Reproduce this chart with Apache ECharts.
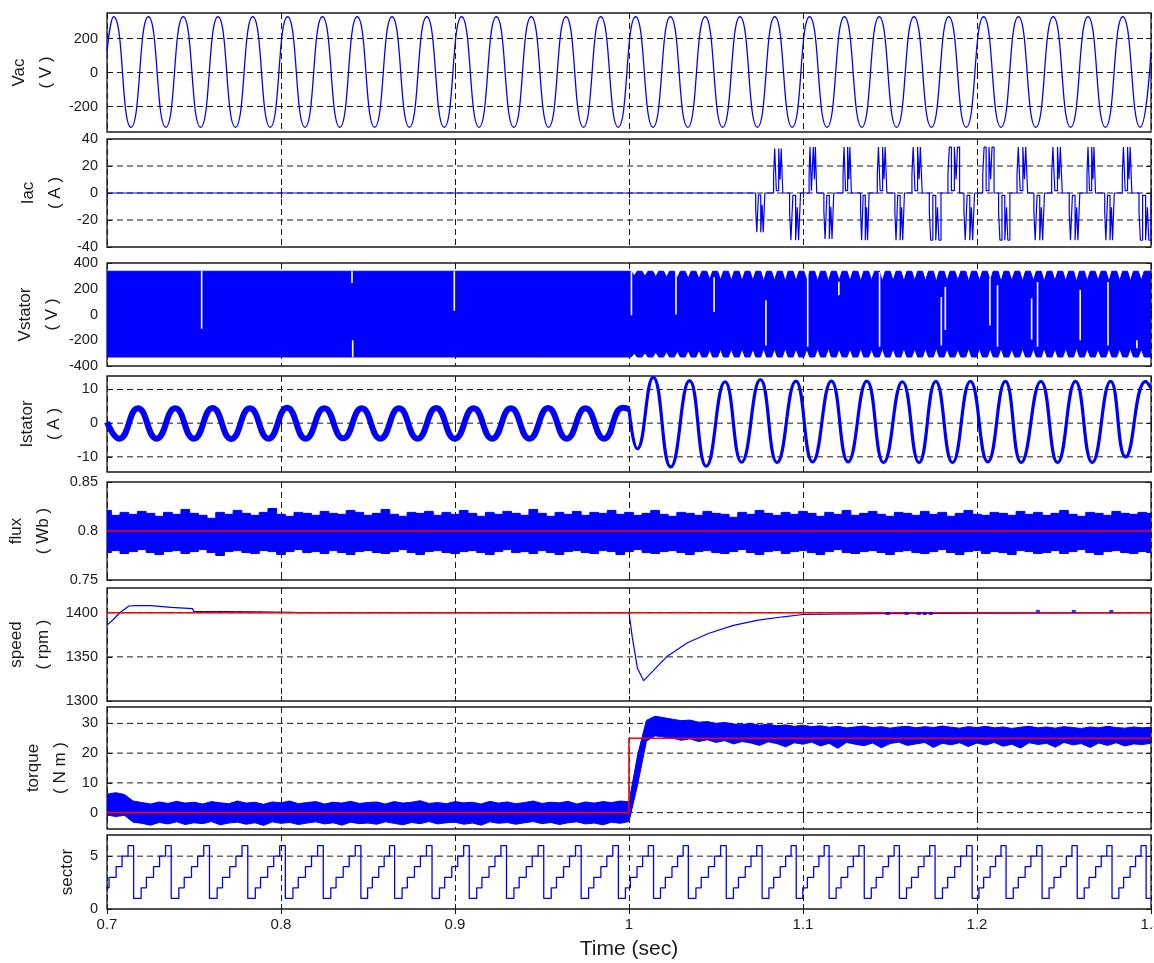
<!DOCTYPE html>
<html>
<head>
<meta charset="utf-8">
<title>Drive simulation traces</title>
<script src="https://cdn.jsdelivr.net/npm/echarts@6/dist/echarts.min.js"></script>
<style>
  html, body { margin: 0; padding: 0; background: #ffffff; }
  #chart { width: 1154px; height: 963px; }
</style>
</head>
<body>
<div id="chart"></div>
<script>
// ---------------- time axis ----------------
const T_MIN = 0.7, T_MAX = 1.3;

// ---------------- Vac : supply voltage (extrema of the 50 Hz wave) ----------------
const vacTime = [0.7, 0.7038, 0.7138, 0.7238, 0.7338, 0.7438, 0.7538, 0.7638, 0.7738, 0.7838, 0.7938,
  0.8038, 0.8138, 0.8238, 0.8338, 0.8438, 0.8538, 0.8638, 0.8738, 0.8838, 0.8938,
  0.9038, 0.9138, 0.9238, 0.9338, 0.9438, 0.9538, 0.9638, 0.9738, 0.9838, 0.9938,
  1.0038, 1.0138, 1.0238, 1.0338, 1.0438, 1.0538, 1.0638, 1.0738, 1.0838, 1.0938,
  1.1038, 1.1138, 1.1238, 1.1338, 1.1438, 1.1538, 1.1638, 1.1738, 1.1838, 1.1938,
  1.2038, 1.2138, 1.2238, 1.2338, 1.2438, 1.2538, 1.2638, 1.2738, 1.2838, 1.2938, 1.3];
const vacVolts = [120,
  328, -322, 328, -322, 328, -322, 328, -322, 328, -322,
  328, -322, 328, -322, 328, -322, 328, -322, 328, -322,
  328, -322, 328, -322, 328, -322, 328, -322, 328, -322,
  328, -322, 328, -322, 328, -322, 328, -322, 328, -322,
  328, -322, 328, -322, 328, -322, 328, -322, 328, -322,
  328, -322, 328, -322, 328, -322, 328, -322, 328, -322,
  120];
const vacTicks = [-200, 0, 200];

// ---------------- Iac : rectifier current pulses ----------------
const iacPulseStart = [1.0728, 1.0831, 1.0923, 1.1035, 1.1120, 1.1230, 1.1331, 1.1427, 1.1528, 1.1626, 1.1726, 1.1833,
  1.1925, 1.2033, 1.2124, 1.2230, 1.2327, 1.2429, 1.2530, 1.2632, 1.2734, 1.2835, 1.2931];
const iacPulseEnd = [1.0781, 1.0884, 1.0986, 1.1079, 1.1177, 1.1278, 1.1380, 1.1482, 1.1583, 1.1685, 1.1793, 1.1900,
  1.1986, 1.2098, 1.2189, 1.2291, 1.2388, 1.2490, 1.2591, 1.2681, 1.2789, 1.2890, 1.3000];
const iacPulsePeak = [-29, 33, -35, 34, -34, 34, -35, 34, -35, 34, -35, 34,
  -35, 34, -35, 34, -35, 34, -35, 34, -35, 34, -35];
const iacTicks = [-40, -20, 0, 20, 40];
const iacGrid = [-20, 0, 20];

// ---------------- Vstator : PWM phase voltage ----------------
const vstatorRail = [336, -330];
const vstatorDipTime = [1.0030, 1.0092, 1.0154, 1.0216, 1.0278, 1.0340, 1.0402, 1.0464,
  1.0526, 1.0588, 1.0650, 1.0712, 1.0774, 1.0836, 1.0898, 1.0960,
  1.1022, 1.1084, 1.1146, 1.1208, 1.1270, 1.1332, 1.1394, 1.1456,
  1.1518, 1.1580, 1.1642, 1.1704, 1.1766, 1.1828, 1.1890, 1.1952,
  1.2014, 1.2076, 1.2138, 1.2200, 1.2262, 1.2324, 1.2386, 1.2448,
  1.2510, 1.2572, 1.2634, 1.2696, 1.2758, 1.2820, 1.2882, 1.2944];
const vstatorDipTop = [300, 296, 292, 288, 284, 280, 276, 272,
  268, 265, 262, 266, 260, 264, 258, 262,
  266, 260, 258, 264, 262, 258, 266, 260,
  262, 258, 264, 260, 256, 262, 266, 258,
  262, 260, 256, 264, 260, 262, 258, 264,
  260, 256, 262, 266, 258, 262, 260, 264];
const vstatorDipBottom = [-300, -296, -292, -288, -284, -280, -276, -272,
  -270, -268, -266, -270, -264, -268, -262, -266,
  -270, -264, -262, -268, -266, -262, -270, -264,
  -266, -262, -268, -264, -260, -266, -270, -262,
  -266, -264, -260, -268, -264, -266, -262, -268,
  -264, -260, -266, -270, -262, -266, -264, -268];
const vstatorGapTime = [0.7544, 0.8408, 0.8412, 0.8996, 1.0014, 1.0270, 1.0489, 1.0787, 1.1027, 1.1206,
  1.1440, 1.1795, 1.1818, 1.2074, 1.2118, 1.2314, 1.2348, 1.2593, 1.2753, 1.2919];
const vstatorGapTop = [336, 336, -200, 336, 336, 336, 290, 110, 330, 255,
  330, 135, 215, 282, 228, 124, 253, 190, 253, -200];
const vstatorGapBottom = [-110, 245, -330, 30, -5, 0, 20, -240, -250, 150,
  -250, -240, -120, -85, -250, -195, -250, -200, -240, -262];
const vstatorTicks = [-400, -200, 0, 200, 400];
const vstatorGrid = [-200, 0, 200];

// ---------------- Istator : stator current (extrema) ----------------
const istatorTime = [0.7, 0.7071, 0.7178, 0.7285, 0.7392, 0.7499, 0.7607, 0.7714, 0.7821, 0.7928,
  0.8035, 0.8142, 0.8249, 0.8357, 0.8464, 0.8571, 0.8678, 0.8785, 0.8892, 0.8999,
  0.9107, 0.9214, 0.9321, 0.9428, 0.9535, 0.9642, 0.9750, 0.9857, 0.9964, 1.0,
  1.0048, 1.0139, 1.0240, 1.0348, 1.0444, 1.0552, 1.0647, 1.0755, 1.0851, 1.0959,
  1.1055, 1.1163, 1.1259, 1.1367, 1.1463, 1.1571, 1.1667, 1.1763, 1.1859, 1.1962,
  1.2062, 1.2163, 1.2254, 1.2367, 1.2463, 1.2566, 1.2662, 1.2768, 1.2854, 1.2969, 1.3];
const istatorAmps = [0.3, -4.6, 4.4, -4.6, 4.4, -4.6, 4.5, -4.7, 4.4, -4.6,
  4.6, -4.6, 4.4, -4.5, 4.4, -4.6, 4.4, -4.6, 4.5, -4.6,
  4.4, -4.6, 4.4, -4.6, 4.5, -4.6, 4.4, -4.6, 4.6, 4.2,
  -7.6, 13.6, -13.0, 12.6, -12.8, 12.3, -11.6, 12.9, -11.7, 12.5,
  -11.5, 12.5, -11.5, 12.5, -11.7, 12.3, -11.7, 12.4, -11.7, 12.4,
  -11.5, 12.4, -11.7, 12.4, -11.7, 12.4, -11.7, 12.4, -10.0, 12.4, 10.4];
const istatorTicks = [-10, 0, 10];

// ---------------- flux : estimated flux envelope, 5 ms samples ----------------
const fluxRef = 0.8;
const fluxStep = 0.005;
const fluxUpper = [
  0.821, 0.816, 0.819, 0.817, 0.820, 0.818, 0.815, 0.819, 0.817, 0.822,
  0.818, 0.816, 0.813, 0.819, 0.817, 0.821, 0.818, 0.816, 0.819, 0.823,
  0.817, 0.815, 0.819, 0.818, 0.816, 0.820, 0.818, 0.817, 0.821, 0.819,
  0.816, 0.818, 0.822, 0.817, 0.815, 0.819, 0.818, 0.820, 0.816, 0.819,
  0.817, 0.821, 0.818, 0.815, 0.819, 0.817, 0.820, 0.818, 0.816, 0.822,
  0.818, 0.815, 0.819, 0.817, 0.820, 0.816, 0.819, 0.818, 0.821, 0.817,
  0.819, 0.816, 0.818, 0.821, 0.817, 0.815, 0.819, 0.818, 0.816, 0.820,
  0.818, 0.817, 0.814, 0.819, 0.817, 0.821, 0.818, 0.816, 0.819, 0.817,
  0.820, 0.818, 0.815, 0.819, 0.817, 0.821, 0.816, 0.818, 0.820, 0.817,
  0.815, 0.819, 0.818, 0.816, 0.820, 0.817, 0.819, 0.815, 0.818, 0.821,
  0.817, 0.816, 0.819, 0.818, 0.816, 0.820, 0.817, 0.819, 0.816, 0.818,
  0.821, 0.817, 0.815, 0.819, 0.818, 0.816, 0.820, 0.818, 0.817, 0.819,
  0.818];
const fluxLower = [
  0.778, 0.780, 0.777, 0.779, 0.781, 0.778, 0.776, 0.779, 0.780, 0.777,
  0.779, 0.781, 0.778, 0.775, 0.779, 0.780, 0.778, 0.777, 0.780, 0.779,
  0.776, 0.779, 0.781, 0.778, 0.779, 0.777, 0.780, 0.778, 0.776, 0.779,
  0.780, 0.778, 0.777, 0.779, 0.781, 0.778, 0.776, 0.779, 0.780, 0.778,
  0.777, 0.779, 0.780, 0.778, 0.776, 0.779, 0.781, 0.778, 0.779, 0.777,
  0.780, 0.778, 0.776, 0.779, 0.780, 0.778, 0.777, 0.780, 0.779, 0.776,
  0.779, 0.781, 0.778, 0.777, 0.779, 0.780, 0.778, 0.776, 0.779, 0.780,
  0.778, 0.777, 0.779, 0.781, 0.778, 0.776, 0.779, 0.780, 0.777, 0.779,
  0.780, 0.778, 0.776, 0.779, 0.781, 0.778, 0.777, 0.779, 0.780, 0.778,
  0.776, 0.779, 0.780, 0.778, 0.777, 0.779, 0.781, 0.778, 0.776, 0.779,
  0.780, 0.777, 0.779, 0.778, 0.776, 0.780, 0.779, 0.777, 0.778, 0.780,
  0.777, 0.779, 0.781, 0.778, 0.776, 0.779, 0.780, 0.778, 0.777, 0.779,
  0.778];
const fluxTicks = [0.75, 0.8, 0.85];
const fluxGrid = [0.8];

// ---------------- speed ----------------
const speedRef = 1400;
const speedTime = [0.7, 0.7035, 0.7073, 0.7126, 0.716, 0.7254, 0.7258, 0.7369, 0.7373, 0.7493, 0.7497,
  0.7857, 0.8067, 0.81, 1.0, 1.0019, 1.0048, 1.0084, 1.0216, 1.0336, 1.0456, 1.06, 1.0743, 1.0887, 1.1,
  1.1415, 1.3];
const speedRpm = [1386, 1392, 1400, 1407.6, 1408, 1408, 1406.3, 1406, 1405, 1404.6, 1401.5,
  1401, 1400.5, 1400, 1400, 1372, 1337.5, 1323, 1350, 1366, 1376.5, 1385.6, 1391.6, 1395.4, 1398,
  1399, 1400];
// brief excursions that poke out around the reference line
const speedBlipTime = [1.1487, 1.1595, 1.1665, 1.1700, 1.1735, 1.2350, 1.2556, 1.2772];
const speedBlipRpm = [1399.2, 1399.2, 1399.2, 1399.2, 1399.2, 1401.5, 1401.5, 1401.5];
const speedTicks = [1300, 1350, 1400];
const speedGrid = [1350, 1400];

// ---------------- torque : reference step and measured envelope, 5 ms samples ----------------
const torqueRefTime = [0.7, 1.0, 1.0, 1.3];
const torqueRefValue = [0, 0, 25, 25];
const torqueStep = 0.005;
const torqueUpper = [
  6.2, 6.7, 6.1, 3.9, 3.4, 2.9, 3.6, 3.1, 3.8, 3.2,
  3.5, 2.9, 3.7, 3.3, 3.0, 3.9, 3.2, 3.5, 2.8, 3.6,
  3.3, 3.9, 3.0, 3.4, 3.7, 2.9, 3.5, 3.2, 3.8, 3.1,
  3.4, 3.6, 2.9, 3.7, 3.2, 3.5, 4.0, 3.1, 3.4, 3.0,
  3.7, 3.3, 3.5, 2.9, 3.8, 3.2, 3.6, 3.0, 3.4, 3.9,
  3.1, 3.5, 3.3, 3.8, 2.9, 3.6, 3.2, 3.7, 3.4, 3.9,
  3.6, 19.5, 31.0, 32.4, 31.9, 31.4, 30.9, 31.1, 30.4, 30.6,
  30.0, 30.3, 29.8, 29.6, 30.0, 29.4, 29.7, 29.2, 29.5, 29.0,
  29.4, 28.9, 29.2, 28.7, 29.0, 28.5, 28.8, 29.1, 28.6, 28.9,
  28.4, 28.8, 29.0, 28.5, 28.9, 28.6, 29.1, 28.7, 28.4, 28.9,
  28.6, 29.0, 28.5, 28.8, 28.3, 28.7, 29.0, 28.5, 28.8, 28.4,
  28.9, 28.6, 28.3, 28.8, 28.5, 29.0, 28.6, 28.4, 28.8, 28.5,
  28.7];
const torqueLower = [
  -0.8, -1.3, -0.9, -3.2, -3.6, -4.2, -3.3, -3.8, -3.1, -4.0,
  -3.4, -3.7, -3.0, -4.1, -3.5, -3.2, -3.9, -3.4, -4.3, -3.1,
  -3.6, -3.3, -4.0, -3.5, -3.1, -3.8, -3.4, -4.2, -3.2, -3.7,
  -3.5, -3.9, -3.1, -3.6, -4.1, -3.3, -3.7, -3.0, -3.8, -3.4,
  -3.2, -3.9, -3.5, -4.2, -3.1, -3.6, -3.3, -3.9, -3.4, -3.0,
  -3.7, -3.3, -4.0, -3.4, -3.1, -3.8, -3.5, -4.1, -3.2, -3.6,
  -3.0, 9.5, 24.0, 25.8, 25.4, 25.0, 24.3, 24.8, 23.9, 24.5,
  23.6, 24.2, 23.1, 23.9, 23.4, 22.6, 23.8, 23.2, 22.1, 23.5,
  23.0, 23.7, 22.4, 23.3, 21.6, 23.6, 23.0, 22.5, 23.4, 21.8,
  23.2, 23.7, 22.6, 23.1, 23.6, 21.9, 23.3, 22.8, 23.5, 22.2,
  23.4, 22.7, 23.6, 22.3, 23.0, 21.7, 23.5, 22.9, 23.3, 22.0,
  23.6, 22.8, 23.2, 21.9, 23.4, 22.6, 23.5, 22.4, 23.1, 22.9,
  23.3];
const torqueTicks = [0, 10, 20, 30];

// ---------------- sector : flux sector index ----------------
const sectorDropTime = [0.6939, 0.7153, 0.7369, 0.7589, 0.7809, 0.8025, 0.8243, 0.8459, 0.8653, 0.8868,
  0.9082, 0.9296, 0.9510, 0.9725, 0.9939, 1.0141, 1.0341, 1.0559, 1.0765, 1.0961,
  1.1150, 1.1352, 1.1554, 1.1759, 1.1972, 1.2167, 1.2374, 1.2576, 1.2776, 1.2972];
const sectorLevels = [1, 2, 3, 4, 5, 6];
const sectorStepFrac = [0, 0.20, 0.34, 0.53, 0.69, 0.85];
const sectorTicks = [0, 5];
const sectorGrid = [5];

// ============================================================
const BLUE = '#0000ff', RED = '#ff0000', INK = '#1a1a1a';
const FONT = "'Liberation Sans', Arial, Helvetica, sans-serif";
const LEFT = 107, WIDTH = 1044;

const zip = (xs, ys) => xs.map((x, k) => [x, ys[k]]);

const panels = [
  { top: 13,  height: 119, min: -350, max: 350,   labels: vacTicks,     grid: vacTicks,     name: 'Vac\n( V )',       gap: 47.5 },
  { top: 139, height: 108, min: -40,  max: 40,    labels: iacTicks,     grid: iacGrid,      name: 'Iac\n( A )',       gap: 38.5 },
  { top: 263, height: 103, min: -400, max: 400,   labels: vstatorTicks, grid: vstatorGrid,  name: 'Vstator\n( V )',   gap: 41.5 },
  { top: 376, height: 96,  min: -14.5, max: 14,   labels: istatorTicks, grid: istatorTicks, name: 'Istator\n( A )',   gap: 39.5 },
  { top: 482, height: 98,  min: 0.75, max: 0.85,  labels: fluxTicks,    grid: fluxGrid,     name: 'flux\n( Wb )',     gap: 50.5 },
  { top: 588, height: 113, min: 1300, max: 1428,  labels: speedTicks,   grid: speedGrid,    name: 'speed\n( rpm )',   gap: 50.5 },
  { top: 707, height: 122, min: -5.5, max: 35.5,  labels: torqueTicks,  grid: torqueTicks,  name: 'torque\n( N m )',  gap: 33.5 },
  { top: 835, height: 74,  min: 0,    max: 7,     labels: sectorTicks,  grid: sectorGrid,   name: 'sector',           gap: 26.5 }
];

const grids = [], xAxes = [], yAxes = [], series = [];

panels.forEach((p, i) => {
  const last = i === panels.length - 1;
  grids.push({
    left: LEFT, top: p.top, width: WIDTH, height: p.height,
    show: true, borderColor: INK, borderWidth: 1.3, backgroundColor: 'transparent',
    containLabel: false, outerBoundsMode: 'none'
  });
  xAxes.push({
    type: 'value', gridIndex: i, position: 'bottom', min: T_MIN, max: T_MAX, interval: 0.1,
    axisLine: { show: false },
    axisTick: { show: true, inside: true, length: 5, lineStyle: { color: INK, width: 1 } },
    splitLine: { show: true, lineStyle: { color: INK, width: 1, type: [6, 4] } },
    axisLabel: {
      show: last, color: INK, fontFamily: FONT, fontSize: 15, margin: 8,
      formatter: v => String(Math.round(v * 10) / 10)
    },
    name: last ? 'Time (sec)' : '', nameLocation: 'middle', nameGap: 30,
    nameTextStyle: { color: INK, fontFamily: FONT, fontSize: 21 }
  });
  xAxes.push({
    type: 'value', gridIndex: i, position: 'top', min: T_MIN, max: T_MAX, interval: 0.1,
    axisLine: { show: false },
    axisTick: { show: true, inside: true, length: 5, lineStyle: { color: INK, width: 1 } },
    splitLine: { show: false }, axisLabel: { show: false }
  });
  yAxes.push({
    type: 'value', gridIndex: i, position: 'left', min: p.min, max: p.max,
    axisLine: { show: false },
    axisTick: { show: true, inside: true, length: 5, customValues: p.labels, lineStyle: { color: INK, width: 1 } },
    splitLine: { show: false },
    axisLabel: {
      color: INK, fontFamily: FONT, fontSize: 14.5, margin: 9, customValues: p.labels,
      formatter: v => String(Math.round(v * 1000) / 1000)
    },
    name: p.name, nameLocation: 'middle', nameGap: p.gap, nameRotate: 90, nameMoveOverlap: false,
    nameTextStyle: { color: INK, fontFamily: FONT, fontSize: 17, lineHeight: 27 }
  });
  yAxes.push({
    type: 'value', gridIndex: i, position: 'right', min: p.min, max: p.max,
    axisLine: { show: false },
    axisTick: { show: true, inside: true, length: 5, customValues: p.labels, lineStyle: { color: INK, width: 1 } },
    splitLine: { show: false }, axisLabel: { show: false }
  });

  // dashed horizontal grid lines
  const gl = [];
  p.grid.forEach(v => { gl.push([T_MIN, v], [T_MAX, v], [T_MAX, '-']); });
  series.push({
    type: 'line', xAxisIndex: 2 * i, yAxisIndex: 2 * i, data: gl, z: 1,
    symbol: 'none', silent: true, animation: false, connectNulls: false,
    lineStyle: { color: INK, width: 1, type: [6, 4] }
  });
});

function line(i, data, extra) {
  return Object.assign({
    type: 'line', xAxisIndex: 2 * i, yAxisIndex: 2 * i, data: data,
    symbol: 'none', showSymbol: false, silent: true, animation: false, z: 3,
    lineStyle: { color: BLUE, width: 1.2 }
  }, extra || {});
}

// Filled envelope between a lower and an upper trace, drawn as one polygon.
// Each datum is [t, low, high]; with `stepped`, each sample holds over +/- half a step.
function envelope(i, samples, stepped, z) {
  return {
    type: 'custom', xAxisIndex: 2 * i, yAxisIndex: 2 * i, data: samples,
    z: z || 2, silent: true, animation: false, clip: true,
    encode: { x: 0, y: [1, 2] },
    renderItem: (params, api) => {
      if (params.dataIndex !== 0) return null;
      const upper = [], lower = [];
      samples.forEach((s, k) => {
        if (stepped) {
          const half = ((samples[k + 1] || s)[0] - (samples[k - 1] || s)[0]) / ((samples[k + 1] && samples[k - 1]) ? 4 : 2);
          upper.push(api.coord([s[0] - half, s[2]]), api.coord([s[0] + half, s[2]]));
          lower.push(api.coord([s[0] - half, s[1]]), api.coord([s[0] + half, s[1]]));
        } else {
          upper.push(api.coord([s[0], s[2]]));
          lower.push(api.coord([s[0], s[1]]));
        }
      });
      return {
        type: 'polygon', shape: { points: upper.concat(lower.reverse()) },
        style: { fill: BLUE, stroke: BLUE, lineWidth: 1 }
      };
    }
  };
}
const triples = (times, low, high) => times.map((t, k) => [t, low[k], high[k]]);

// 1. Vac
series.push(line(0, zip(vacTime, vacVolts), { smooth: 0.55, lineStyle: { color: BLUE, width: 1.3 } }));

// 2. Iac : each conduction interval is drawn as a cluster of narrow current spikes
const iacData = [[T_MIN, 0]];
iacPulseStart.forEach((t0, k) => {
  const t1 = iacPulseEnd[k], pk = iacPulsePeak[k], w = t1 - t0;
  iacData.push([t0, pk * 0.4], [t0 + 0.12 * w, pk], [t0 + 0.3 * w, pk * 0.05],
    [t0 + 0.55 * w, pk], [t0 + 0.7 * w, pk * 0.3], [t0 + 0.82 * w, pk], [t1, 0]);
});
iacData.push([T_MAX, 0]);
series.push(line(1, iacData, { step: 'end' }));

// 3. Vstator : switching envelope with ripple notches, then the blank switching gaps
const vsT = [T_MIN, 1.0], vsTop = [vstatorRail[0], vstatorRail[0]], vsBot = [vstatorRail[1], vstatorRail[1]];
vstatorDipTime.forEach((d, k) => {
  vsT.push(d - 0.0017, d, d + 0.0017);
  vsTop.push(vstatorRail[0], vstatorDipTop[k], vstatorRail[0]);
  vsBot.push(vstatorRail[1], vstatorDipBottom[k], vstatorRail[1]);
});
vsT.push(T_MAX); vsTop.push(vstatorRail[0]); vsBot.push(vstatorRail[1]);
series.push(envelope(2, triples(vsT, vsBot, vsTop), false, 2));
const gapData = [];
vstatorGapTime.forEach((t, k) => { gapData.push([t, vstatorGapTop[k]], [t, vstatorGapBottom[k]], [t, '-']); });
series.push(line(2, gapData, { z: 4, connectNulls: false, lineStyle: { color: '#ffffff', width: 1.6 } }));

// 4. Istator : thicker trace before the load step, thinner after it
const isPre = [], isPost = [];
istatorTime.forEach((t, k) => {
  if (t <= 1.0) isPre.push([t, istatorAmps[k]]);
  if (t >= 1.0) isPost.push([t, istatorAmps[k]]);
});
series.push(line(3, isPre, { smooth: 0.5, lineStyle: { color: BLUE, width: 6 } }));
series.push(line(3, isPost, { smooth: 0.5, lineStyle: { color: BLUE, width: 3.2 } }));

// 5. flux
const fluxT = fluxUpper.map((_, k) => T_MIN + k * fluxStep);
series.push(envelope(4, triples(fluxT, fluxLower, fluxUpper), true));
series.push(line(4, [[T_MIN, fluxRef], [T_MAX, fluxRef]], { z: 5, lineStyle: { color: RED, width: 1.6 } }));

// 6. speed
series.push(line(5, zip(speedTime, speedRpm), { lineStyle: { color: BLUE, width: 1.2 } }));
series.push(line(5, [[T_MIN, speedRef], [T_MAX, speedRef]], { z: 5, lineStyle: { color: RED, width: 1.6 } }));
series.push({
  type: 'scatter', xAxisIndex: 10, yAxisIndex: 10, data: zip(speedBlipTime, speedBlipRpm),
  symbol: 'rect', symbolSize: [4, 3], itemStyle: { color: BLUE }, z: 6, silent: true, animation: false
});

// 7. torque
const torqueT = torqueUpper.map((_, k) => T_MIN + k * torqueStep);
series.push(envelope(6, triples(torqueT, torqueLower, torqueUpper), false));
series.push(line(6, zip(torqueRefTime, torqueRefValue), { z: 5, lineStyle: { color: RED, width: 1.6 } }));

// 8. sector staircase
const sectorData = [];
sectorDropTime.forEach((d, k) => {
  const next = sectorDropTime[k + 1];
  const period = next !== undefined ? next - d : d - sectorDropTime[k - 1];
  sectorLevels.forEach((lvl, j) => {
    const t = d + sectorStepFrac[j] * period;
    if (next === undefined && t > T_MAX) return;
    sectorData.push([t, lvl]);
  });
});
sectorData.push([T_MAX, sectorData[sectorData.length - 1][1]]);
series.push(line(7, sectorData, { step: 'end', lineStyle: { color: BLUE, width: 1.3 } }));

const chart = echarts.init(document.getElementById('chart'), null, { renderer: 'canvas' });
chart.setOption({
  animation: false,
  backgroundColor: '#ffffff',
  textStyle: { fontFamily: FONT },
  grid: grids,
  xAxis: xAxes,
  yAxis: yAxes,
  series: series
});
</script>
</body>
</html>
